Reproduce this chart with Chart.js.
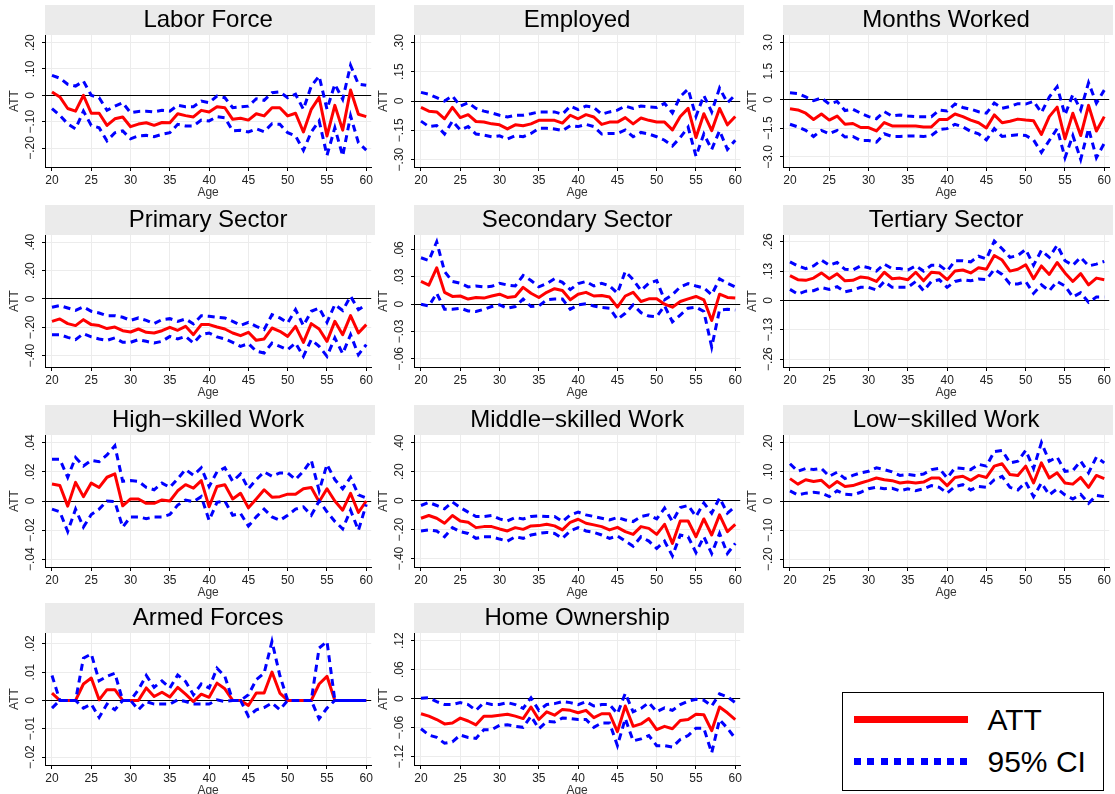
<!DOCTYPE html>
<html><head><meta charset="utf-8">
<script src="https://cdn.jsdelivr.net/npm/chart.js@4.4.1/dist/chart.umd.min.js"></script>
<style>
html,body{margin:0;padding:0;background:#fff;width:1115px;height:794px;overflow:hidden;}
canvas.panel{position:absolute;}
#legend{position:absolute;left:842px;top:692px;width:262px;height:99px;border:1.5px solid #000;box-sizing:border-box;font-family:'Liberation Sans',Arial,sans-serif;color:#000;}
#legend div{position:absolute;}
.lt{font-size:30px;line-height:36px;white-space:nowrap;}
</style></head><body>
<div id="legend">
  <div style="left:10.5px;top:23px;width:114px;height:7px;background:#ff0000"></div>
  <div class="lt" style="left:144.5px;top:9px">ATT</div>
  <div style="left:10.5px;top:65px;width:114px;height:7px;background:repeating-linear-gradient(to right,#0000ff 0px,#0000ff 7px,transparent 7px,transparent 13.3px)"></div>
  <div class="lt" style="left:144.5px;top:51px">95% CI</div>
</div>
<script>
const ages = [20,21,22,23,24,25,26,27,28,29,30,31,32,33,34,35,36,37,38,39,40,41,42,43,44,45,46,47,48,49,50,51,52,53,54,55,56,57,58,59,60];
const ageTicks = [20,25,30,35,40,45,50,55,60];
const seriesNames = ['ATT','95% CI'];

// Labor Force
const lfATT = [0.013,-0.006,-0.05,-0.06,0.0,-0.068,-0.068,-0.114,-0.089,-0.082,-0.119,-0.109,-0.104,-0.114,-0.103,-0.104,-0.07,-0.077,-0.082,-0.057,-0.063,-0.043,-0.047,-0.091,-0.087,-0.094,-0.07,-0.078,-0.047,-0.047,-0.078,-0.068,-0.139,-0.053,-0.008,-0.154,-0.038,-0.132,0.02,-0.072,-0.081];
const lfUp = [0.076,0.065,0.042,0.035,0.054,0,-0.009,-0.057,-0.041,-0.028,-0.066,-0.061,-0.06,-0.063,-0.057,-0.06,-0.038,-0.043,-0.043,-0.022,-0.028,-0.003,-0.009,-0.047,-0.044,-0.041,-0.013,-0.019,0.01,0.013,-0.009,0.004,-0.053,0.035,0.073,-0.053,0.042,-0.015,0.114,0.042,0.038];
const lfLo = [-0.05,-0.076,-0.108,-0.127,-0.06,-0.114,-0.123,-0.173,-0.142,-0.135,-0.165,-0.154,-0.152,-0.157,-0.148,-0.142,-0.11,-0.116,-0.116,-0.094,-0.097,-0.081,-0.085,-0.135,-0.133,-0.139,-0.127,-0.138,-0.108,-0.11,-0.142,-0.154,-0.209,-0.139,-0.097,-0.228,-0.123,-0.23,-0.078,-0.18,-0.208];
const lfTicks = [-0.2,-0.1,0,0.1,0.2];
const lfTickLabels = ['\u2212.20','\u2212.10','0','.10','.20'];

// Employed
const emATT = [-0.033,-0.052,-0.056,-0.091,-0.033,-0.085,-0.07,-0.105,-0.108,-0.117,-0.122,-0.143,-0.122,-0.127,-0.117,-0.099,-0.099,-0.099,-0.113,-0.073,-0.091,-0.07,-0.082,-0.12,-0.108,-0.108,-0.085,-0.117,-0.087,-0.099,-0.108,-0.108,-0.148,-0.079,-0.038,-0.187,-0.065,-0.152,-0.038,-0.122,-0.079];
const emUp = [0.044,0.035,0.017,0,0.026,-0.026,-0.009,-0.038,-0.052,-0.061,-0.073,-0.082,-0.073,-0.073,-0.065,-0.056,-0.056,-0.056,-0.068,-0.026,-0.044,-0.026,-0.033,-0.068,-0.056,-0.047,-0.026,-0.038,-0.026,-0.03,-0.033,-0.012,-0.061,0.023,0.061,-0.079,0.028,-0.056,0.066,-0.009,0.031];
const emLo = [-0.103,-0.131,-0.126,-0.169,-0.103,-0.148,-0.131,-0.169,-0.175,-0.183,-0.178,-0.195,-0.178,-0.183,-0.166,-0.14,-0.14,-0.143,-0.152,-0.126,-0.131,-0.12,-0.131,-0.169,-0.166,-0.166,-0.148,-0.183,-0.161,-0.169,-0.183,-0.201,-0.23,-0.187,-0.134,-0.283,-0.169,-0.248,-0.152,-0.248,-0.201];
const emTicks = [-0.3,-0.15,0,0.15,0.3];
const emTickLabels = ['\u2212.30','\u2212.15','0','.15','.30'];

// Months Worked
const mwATT = [-0.48,-0.54,-0.71,-1.04,-0.75,-1.07,-0.86,-1.29,-1.25,-1.46,-1.46,-1.64,-1.2,-1.38,-1.38,-1.38,-1.38,-1.43,-1.43,-1.04,-1.04,-0.75,-0.89,-1.07,-1.21,-1.48,-0.8,-1.21,-1.13,-1.02,-1.07,-1.11,-1.82,-0.89,-0.39,-2.05,-0.71,-1.88,-0.3,-1.64,-0.89];
const mwUp = [0.36,0.32,0.14,-0.05,0.09,-0.23,-0.09,-0.57,-0.5,-0.71,-0.89,-1.0,-0.63,-0.86,-0.8,-0.86,-0.89,-0.89,-0.89,-0.54,-0.59,-0.23,-0.41,-0.5,-0.63,-0.71,-0.18,-0.45,-0.36,-0.21,-0.23,-0.09,-0.68,0.14,0.68,-0.8,0.27,-0.54,0.89,-0.18,0.5];
const mwLo = [-1.29,-1.43,-1.61,-1.93,-1.61,-1.79,-1.61,-1.96,-1.93,-2.14,-2.14,-2.23,-1.79,-1.93,-1.93,-1.91,-1.91,-1.93,-1.88,-1.57,-1.52,-1.29,-1.43,-1.66,-1.79,-2.11,-1.52,-1.93,-1.88,-1.84,-1.88,-2.11,-2.77,-2.14,-1.52,-3.04,-1.88,-3.13,-1.52,-3.04,-2.29];
const mwTicks = [-3,-1.5,0,1.5,3];
const mwTickLabels = ['\u22123.0','\u22121.5','0','1.5','3.0'];

// Primary Sector
const prATT = [-0.158,-0.141,-0.174,-0.188,-0.146,-0.181,-0.188,-0.209,-0.198,-0.224,-0.233,-0.212,-0.235,-0.24,-0.224,-0.2,-0.221,-0.193,-0.252,-0.181,-0.181,-0.198,-0.212,-0.24,-0.259,-0.235,-0.292,-0.282,-0.205,-0.228,-0.264,-0.193,-0.306,-0.174,-0.212,-0.299,-0.158,-0.252,-0.118,-0.24,-0.181];
const prUp = [-0.059,-0.047,-0.064,-0.08,-0.056,-0.087,-0.099,-0.118,-0.118,-0.129,-0.151,-0.134,-0.151,-0.174,-0.146,-0.139,-0.158,-0.141,-0.176,-0.118,-0.122,-0.129,-0.134,-0.158,-0.186,-0.165,-0.193,-0.216,-0.111,-0.134,-0.169,-0.075,-0.188,-0.087,-0.064,-0.165,-0.04,-0.082,0.019,-0.075,-0.04];
const prLo = [-0.252,-0.252,-0.271,-0.287,-0.245,-0.268,-0.282,-0.292,-0.275,-0.306,-0.306,-0.287,-0.299,-0.311,-0.299,-0.264,-0.282,-0.264,-0.311,-0.252,-0.24,-0.268,-0.282,-0.306,-0.334,-0.315,-0.369,-0.381,-0.311,-0.334,-0.358,-0.311,-0.405,-0.287,-0.334,-0.405,-0.275,-0.386,-0.252,-0.393,-0.322];
const prTicks = [-0.4,-0.2,0,0.2,0.4];
const prTickLabels = ['\u2212.40','\u2212.20','0','.20','.40'];

// Secondary Sector
const seATT = [0.025,0.021,0.04,0.013,0.0085,0.009,0.0056,0.0074,0.0067,0.009,0.011,0.0074,0.0085,0.0185,0.012,0.0074,0.013,0.017,0.015,0.0048,0.011,0.013,0.009,0.0096,0.0078,-0.0033,0.009,0.013,0.003,0.0059,0.0059,0,-0.0033,0.003,0.0059,0.0085,0.0048,-0.018,0.011,0.0074,0.0067];
const seUp = [0.051,0.048,0.0685,0.036,0.025,0.023,0.019,0.020,0.019,0.0196,0.023,0.021,0.020,0.0315,0.026,0.019,0.0226,0.028,0.024,0.016,0.0226,0.025,0.020,0.023,0.020,0.012,0.036,0.027,0.015,0.023,0.026,0.0048,0.0104,0.019,0.0226,0.020,0.0178,0.0104,0.0278,0.023,0.019];
const seLo = [0,-0.002,0.012,-0.0056,-0.0056,-0.0044,-0.0074,-0.0081,-0.0056,-0.0026,-0.0007,-0.0044,-0.0026,0.0056,-0.0026,-0.0019,0.0048,0.0056,0.0056,-0.0056,-0.0007,0.0004,-0.0019,-0.0037,-0.0044,-0.0167,-0.01,-0.0007,-0.0093,-0.013,-0.0137,-0.0019,-0.0193,-0.0119,-0.0044,-0.0033,-0.0081,-0.047,-0.0063,-0.0056,-0.0063];
const seTicks = [-0.06,-0.03,0,0.03,0.06];
const seTickLabels = ['\u2212.06','\u2212.03','0','.03','.06'];

// Tertiary Sector
const teATT = [0.11,0.092,0.089,0.099,0.122,0.096,0.118,0.087,0.089,0.104,0.099,0.084,0.125,0.096,0.099,0.092,0.125,0.087,0.125,0.122,0.092,0.13,0.135,0.122,0.145,0.138,0.199,0.179,0.13,0.138,0.158,0.096,0.153,0.115,0.168,0.122,0.084,0.119,0.069,0.099,0.092];
const teUp = [0.171,0.153,0.141,0.153,0.179,0.156,0.168,0.138,0.135,0.153,0.145,0.13,0.161,0.141,0.141,0.135,0.153,0.13,0.156,0.156,0.13,0.176,0.176,0.171,0.196,0.184,0.263,0.229,0.191,0.199,0.226,0.156,0.222,0.191,0.245,0.176,0.156,0.191,0.153,0.161,0.173];
const teLo = [0.049,0.028,0.041,0.043,0.057,0.049,0.061,0.038,0.046,0.058,0.058,0.046,0.084,0.058,0.058,0.058,0.084,0.043,0.084,0.092,0.058,0.084,0.092,0.087,0.095,0.092,0.138,0.115,0.073,0.073,0.084,0.031,0.069,0.043,0.084,0.064,0.015,0.034,-0.008,0.015,0.015];
const teTicks = [-0.26,-0.13,0,0.13,0.26];
const teTickLabels = ['\u2212.26','\u2212.13','0','.13','.26'];

// High-skilled Work
const hsATT = [0.0116,0.0107,-0.0035,0.0128,0.003,0.0123,0.0093,0.0163,0.0186,-0.0033,0.0014,0.0014,-0.0016,-0.0016,0.0007,0,0.007,0.0112,0.0088,0.014,-0.004,0.01,0.0112,0.0014,0.0053,-0.0047,0.0014,0.0077,0.0026,0.003,0.0047,0.0047,0.0084,0.0093,-0.0005,0.0084,0,-0.0063,0.0053,-0.0079,0];
const hsUp = [0.0286,0.0286,0.0163,0.0298,0.024,0.0279,0.027,0.0316,0.0379,0.0135,0.014,0.0135,0.0093,0.0077,0.0123,0.0093,0.0153,0.0216,0.0177,0.0228,0.01,0.02,0.0228,0.0135,0.0186,0.0084,0.0147,0.02,0.017,0.0193,0.0193,0.0147,0.0205,0.0279,0.007,0.0251,0.0147,0.0084,0.0163,0.0042,0.002];
const hsLo = [-0.0056,-0.0074,-0.0209,-0.0056,-0.0179,-0.0093,-0.0056,0,-0.0005,-0.0179,-0.0109,-0.0109,-0.0121,-0.0109,-0.0109,-0.0093,-0.0028,0.0007,-0.0005,0.003,-0.0133,-0.0009,0,-0.0098,-0.0086,-0.0172,-0.0109,-0.0056,-0.0109,-0.0133,-0.0098,-0.0056,-0.004,-0.0098,0,-0.0074,-0.014,-0.0191,-0.0063,-0.0202,-0.0023];
const hsTicks = [-0.04,-0.02,0,0.02,0.04];
const hsTickLabels = ['\u2212.04','\u2212.02','0','.02','.04'];

// Middle-skilled Work
const msATT = [-0.121,-0.102,-0.121,-0.156,-0.102,-0.14,-0.149,-0.186,-0.179,-0.179,-0.195,-0.209,-0.186,-0.198,-0.174,-0.172,-0.163,-0.174,-0.202,-0.149,-0.128,-0.156,-0.167,-0.179,-0.202,-0.184,-0.214,-0.233,-0.179,-0.191,-0.233,-0.163,-0.295,-0.14,-0.14,-0.249,-0.126,-0.237,-0.098,-0.214,-0.163];
const msUp = [-0.033,-0.012,-0.033,-0.056,-0.009,-0.047,-0.079,-0.109,-0.109,-0.102,-0.126,-0.14,-0.116,-0.126,-0.109,-0.105,-0.109,-0.109,-0.144,-0.098,-0.079,-0.098,-0.109,-0.121,-0.133,-0.116,-0.133,-0.144,-0.109,-0.098,-0.126,-0.051,-0.144,-0.047,-0.033,-0.109,-0.016,-0.086,0.019,-0.086,-0.04];
const msLo = [-0.209,-0.202,-0.209,-0.249,-0.186,-0.214,-0.226,-0.26,-0.249,-0.249,-0.265,-0.279,-0.249,-0.26,-0.237,-0.226,-0.219,-0.226,-0.26,-0.209,-0.186,-0.209,-0.219,-0.237,-0.26,-0.244,-0.279,-0.314,-0.249,-0.279,-0.33,-0.279,-0.381,-0.237,-0.249,-0.358,-0.249,-0.365,-0.226,-0.365,-0.295];
const msTicks = [-0.4,-0.2,0,0.2,0.4];
const msTickLabels = ['\u2212.40','\u2212.20','0','.20','.40'];

// Low-skilled Work
const lsATT = [0.077,0.058,0.073,0.067,0.071,0.047,0.067,0.05,0.053,0.062,0.07,0.079,0.073,0.07,0.062,0.065,0.062,0.065,0.079,0.079,0.053,0.081,0.085,0.071,0.088,0.081,0.12,0.128,0.091,0.088,0.12,0.062,0.131,0.079,0.097,0.062,0.058,0.081,0.047,0.088,0.077];
const lsUp = [0.128,0.102,0.112,0.108,0.112,0.085,0.099,0.077,0.088,0.097,0.102,0.114,0.108,0.1,0.088,0.091,0.088,0.093,0.108,0.112,0.079,0.114,0.112,0.108,0.126,0.12,0.17,0.174,0.131,0.137,0.174,0.112,0.201,0.137,0.151,0.102,0.105,0.137,0.097,0.151,0.131];
const lsLo = [0.035,0.021,0.027,0.03,0.027,0.015,0.035,0.023,0.021,0.03,0.042,0.047,0.042,0.044,0.035,0.042,0.035,0.042,0.053,0.047,0.027,0.05,0.056,0.038,0.05,0.047,0.073,0.085,0.047,0.038,0.065,0.015,0.062,0.021,0.042,0.021,0.007,0.023,-0.008,0.019,0.015];
const lsTicks = [-0.2,-0.1,0,0.1,0.2];
const lsTickLabels = ['\u2212.20','\u2212.10','0','.10','.20'];

// Armed Forces
const afATT = [0.0026,0,0,0,0.0058,0.0079,0.0002,0.0038,0.0038,0,0,0,0.0044,0.0014,0.0029,0.0012,0.0046,0.0022,-0.0004,0.0022,0.0011,0.0061,0.0041,0,0,-0.0018,0.0026,0.0026,0.01,0.0026,0,0,0,0,0.0058,0.0085,0,0,0,0,0];
const afUp = [0.0088,0,0,0,0.0149,0.0164,0.0069,0.0085,0.0096,0,0,0.0038,0.0088,0.0046,0.0069,0.0044,0.009,0.0067,0.002,0.0058,0.0044,0.0114,0.0085,0,0,0.002,0.0073,0.0096,0.0208,0.0088,0,0,0,0,0.0185,0.0208,0,0,0,0,0];
const afLo = [-0.0027,0,0,0,-0.0027,-0.0013,-0.006,-0.0013,-0.0033,0,0,-0.0033,-0.0004,-0.0013,-0.0013,-0.0013,0.0002,-0.0004,-0.0013,-0.0013,-0.0013,0.0002,-0.0004,0,0,-0.0056,-0.0033,-0.0025,-0.0009,-0.0033,0,0,0,0,-0.0065,-0.0027,0,0,0,0,0];
const afTicks = [-0.02,-0.01,0,0.01,0.02];
const afTickLabels = ['\u2212.02','\u2212.01','0','.01','.02'];

// Home Ownership
const hoATT = [-0.031,-0.036,-0.043,-0.052,-0.05,-0.04,-0.046,-0.054,-0.036,-0.036,-0.034,-0.032,-0.036,-0.041,-0.017,-0.043,-0.027,-0.034,-0.022,-0.024,-0.029,-0.024,-0.039,-0.031,-0.031,-0.068,-0.015,-0.057,-0.052,-0.041,-0.064,-0.057,-0.062,-0.045,-0.043,-0.032,-0.033,-0.066,-0.017,-0.029,-0.043];
const hoUp = [0.001,0.002,-0.006,-0.012,-0.012,-0.008,-0.012,-0.024,-0.008,-0.012,-0.012,-0.008,-0.012,-0.02,0.002,-0.024,-0.012,-0.01,-0.006,-0.008,-0.012,-0.006,-0.015,-0.012,-0.012,-0.031,0.011,-0.027,-0.02,-0.008,-0.027,-0.019,-0.024,-0.012,-0.005,-0.001,-0.003,-0.015,0.01,0.004,-0.008];
const hoLo = [-0.062,-0.075,-0.08,-0.092,-0.089,-0.075,-0.08,-0.082,-0.064,-0.064,-0.055,-0.054,-0.057,-0.059,-0.036,-0.062,-0.047,-0.048,-0.04,-0.041,-0.043,-0.043,-0.059,-0.05,-0.05,-0.097,-0.041,-0.087,-0.083,-0.076,-0.097,-0.097,-0.1,-0.084,-0.076,-0.061,-0.061,-0.112,-0.043,-0.061,-0.082];
const hoTicks = [-0.12,-0.06,0,0.06,0.12];
const hoTickLabels = ['\u2212.12','\u2212.06','0','.06','.12'];

const FONT = "'Liberation Sans', Arial, Helvetica, sans-serif";
Chart.defaults.font.family = FONT;

const panels = [
  {title:'Labor Force', att:lfATT, up:lfUp, lo:lfLo, ticks:lfTicks, labels:lfTickLabels, min:-0.272, max:0.229, col:0, row:0},
  {title:'Employed', att:emATT, up:emUp, lo:emLo, ticks:emTicks, labels:emTickLabels, min:-0.338, max:0.338, col:1, row:0},
  {title:'Months Worked', att:mwATT, up:mwUp, lo:mwLo, ticks:mwTicks, labels:mwTickLabels, min:-3.53, max:3.39, col:2, row:0},
  {title:'Primary Sector', att:prATT, up:prUp, lo:prLo, ticks:prTicks, labels:prTickLabels, min:-0.48, max:0.451, col:0, row:1},
  {title:'Secondary Sector', att:seATT, up:seUp, lo:seLo, ticks:seTicks, labels:seTickLabels, min:-0.069, max:0.076, col:1, row:1},
  {title:'Tertiary Sector', att:teATT, up:teUp, lo:teLo, ticks:teTicks, labels:teTickLabels, min:-0.295, max:0.29, col:2, row:1},
  {title:'High\u2212skilled Work', att:hsATT, up:hsUp, lo:hsLo, ticks:hsTicks, labels:hsTickLabels, min:-0.0453, max:0.0453, col:0, row:2},
  {title:'Middle\u2212skilled Work', att:msATT, up:msUp, lo:msLo, ticks:msTicks, labels:msTickLabels, min:-0.458, max:0.454, col:1, row:2},
  {title:'Low\u2212skilled Work', att:lsATT, up:lsUp, lo:lsLo, ticks:lsTicks, labels:lsTickLabels, min:-0.227, max:0.227, col:2, row:2},
  {title:'Armed Forces', att:afATT, up:afUp, lo:afLo, ticks:afTicks, labels:afTickLabels, min:-0.0228, max:0.0238, col:0, row:3},
  {title:'Home Ownership', att:hoATT, up:hoUp, lo:hoLo, ticks:hoTicks, labels:hoTickLabels, min:-0.137, max:0.136, col:1, row:3}
];
const colLeft = [0, 369, 738];
const rowTop = [0, 200, 400, 598];

const bandPlugin = {
  id: 'titleBand',
  beforeDraw(chart) {
    const t = chart.titleBlock;
    if (!t) return;
    const ctx = chart.ctx;
    ctx.save();
    ctx.fillStyle = '#ebebeb';
    ctx.fillRect(chart.chartArea.left, t.top, chart.width - chart.chartArea.left, t.bottom - t.top);
    ctx.restore();
  }
};

function pts(arr) { return ages.map((a, i) => ({x: a, y: arr[i]})); }

panels.forEach(p => {
  const c = document.createElement('canvas');
  c.className = 'panel';
  c.width = 375; c.height = 200;
  c.style.left = colLeft[p.col] + 'px';
  c.style.top = rowTop[p.row] + 'px';
  c.style.width = '375px'; c.style.height = '200px';
  document.body.appendChild(c);
  const ciStyle = {borderColor:'#0000ff', borderWidth:3, borderDash:[7,5], pointRadius:0, tension:0, fill:false, borderCapStyle:'butt'};
  new Chart(c, {
    type: 'line',
    data: {datasets: [
      Object.assign({label: seriesNames[1], data: pts(p.up)}, ciStyle),
      Object.assign({label: seriesNames[1] + ' (lower)', data: pts(p.lo)}, ciStyle),
      {label: seriesNames[0], data: pts(p.att), borderColor:'#ff0000', borderWidth:3, pointRadius:0, tension:0, fill:false, borderJoinStyle:'round'}
    ]},
    options: {
      responsive: false, animation: false, devicePixelRatio: 1,
      layout: {padding: {top: 5, right: 3, left: 0, bottom: 0}},
      plugins: {
        legend: {display: false},
        tooltip: {enabled: false},
        title: {display: true, text: p.title, fullSize: false, color: '#000',
                font: {size: 24, weight: 'normal', family: FONT}, padding: {top: 1, bottom: 0.2}}
      },
      scales: {
        x: {
          type: 'linear', min: 19.11, max: 60.63,
          afterBuildTicks: s => { s.ticks = ageTicks.map(v => ({value: v})); },
          afterFit: s => { s.height = 33; },
          ticks: {font: {size: 12}, color: '#222', padding: 2, maxRotation: 0, minRotation: 0, callback: v => String(v)},
          grid: {color: '#ececec', lineWidth: 1, tickLength: 4, tickColor: '#000'},
          border: {color: '#000', width: 1},
          title: {display: true, text: 'Age', font: {size: 12}, color: '#333', padding: {top: 0, bottom: 0}}
        },
        y: {
          type: 'linear', min: p.min, max: p.max,
          afterBuildTicks: s => { s.ticks = p.ticks.map(v => ({value: v})); },
          afterFit: s => { s.width = 45; },
          ticks: {minRotation: 90, maxRotation: 90, crossAlign: 'center', padding: -1, font: {size: 12}, color: '#222',
                  callback: (v, i) => p.labels[i]},
          grid: {color: ctx => (ctx.tick && ctx.tick.value === 0) ? '#000' : '#ececec', lineWidth: 1, tickLength: 3, tickColor: '#000'},
          border: {color: '#000', width: 1},
          title: {display: true, text: 'ATT', font: {size: 12}, color: '#333', padding: {top: 7, bottom: 0}}
        }
      }
    },
    plugins: [bandPlugin]
  });
});
</script>
</body></html>
